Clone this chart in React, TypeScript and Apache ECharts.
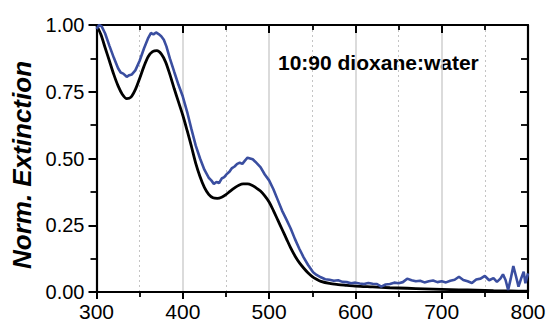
import React, { useEffect, useRef } from "react";
import * as echarts from "echarts";

const blackWl = [300,305,310,315,320,325,330,335,340,345,350,355,360,365,370,375,380,385,390,395,400,405,410,415,420,425,430,435,440,445,450,455,460,465,470,475,480,485,490,495,500,505,510,515,520,525,530,535,540,545,550,555,560,570,580,590,600,620,640,660,680,700,720,740,760,780,800];
const blackVal = [1.0,0.965,0.915,0.865,0.815,0.772,0.74,0.724,0.73,0.758,0.8,0.845,0.882,0.9,0.904,0.892,0.862,0.815,0.762,0.712,0.662,0.605,0.545,0.482,0.432,0.392,0.366,0.353,0.351,0.355,0.365,0.378,0.39,0.4,0.405,0.405,0.4,0.39,0.378,0.36,0.337,0.305,0.27,0.235,0.2,0.165,0.135,0.11,0.09,0.072,0.058,0.048,0.04,0.032,0.028,0.025,0.022,0.019,0.016,0.014,0.012,0.01,0.008,0.007,0.005,0.004,0.003];

const blueWl = [300,303,306,310,315,320,325,328,331,335,338,341,345,350,355,360,363,366,369,372,375,378,381,385,390,395,400,405,410,415,420,425,430,433,436,439,442,445,448,451,454,457,460,463,466,469,472,475,478,481,484,487,490,495,500,505,510,515,520,525,530,535,540,545,548,551,555,560,565,570,575,580,585,590,595,600,605,610,615,620,625,630,635,640,645,650,655,660,665,670,675,680,685,690,695,700,705,710,715,720,725,730,735,740,745,750,755,760,764,768,771,774,777,780,783,786,789,792,795,797,800];
const blueVal = [0.985,1.0,0.995,0.968,0.922,0.878,0.838,0.822,0.818,0.806,0.812,0.815,0.83,0.866,0.912,0.952,0.97,0.965,0.972,0.966,0.958,0.945,0.92,0.875,0.825,0.776,0.732,0.675,0.61,0.548,0.5,0.458,0.428,0.418,0.405,0.412,0.408,0.425,0.43,0.442,0.45,0.464,0.47,0.48,0.484,0.48,0.492,0.503,0.5,0.497,0.488,0.478,0.468,0.44,0.418,0.385,0.345,0.305,0.272,0.238,0.198,0.162,0.13,0.102,0.088,0.074,0.064,0.055,0.048,0.046,0.042,0.044,0.038,0.037,0.033,0.035,0.032,0.03,0.034,0.031,0.03,0.02,0.028,0.03,0.035,0.033,0.037,0.05,0.044,0.04,0.042,0.036,0.04,0.043,0.037,0.04,0.036,0.042,0.046,0.057,0.045,0.04,0.034,0.047,0.05,0.06,0.044,0.052,0.038,0.05,0.066,0.045,0.008,0.05,0.097,0.06,0.02,0.05,0.076,0.033,0.07];

const xMin = 300, xMax = 800, xStep = 100;
const yMin = 0, yMax = 1, yStep = 0.25;
const yTitle = "Norm. Extinction";
const note = "10:90 dioxane:water";

const FONT = "'Liberation Sans', Arial, sans-serif";

export default function App() {
  const ref = useRef<HTMLDivElement>(null);
  useEffect(() => {
    if (!ref.current) return;
    const chart = echarts.init(ref.current, undefined, { renderer: "svg" });
    const axisLine = { show: true, onZero: false, lineStyle: { color: "#000", width: 2.2 } };
    const baseX = {
      type: "value" as const,
      min: xMin,
      max: xMax,
      interval: xStep,
      axisLine,
    };
    const baseY = {
      type: "value" as const,
      min: yMin,
      max: yMax,
      interval: yStep,
      axisLine,
      splitLine: { show: false },
    };
    chart.setOption({
      animation: false,
      backgroundColor: "#fff",
      grid: { left: 96.5, right: 23, top: 25, bottom: 33, containLabel: false },
      xAxis: [
        {
          ...baseX,
          position: "bottom",
          axisTick: { show: true, length: 7, lineStyle: { color: "#000", width: 2 } },
          minorTick: { show: true, splitNumber: 2, length: 5, lineStyle: { color: "#000", width: 1.8 } },
          splitLine: { show: true, lineStyle: { color: "#cfcfcf", width: 1.5 } },
          minorSplitLine: { show: true, lineStyle: { color: "#c4c4c4", width: 1, type: [2, 3] } },
          axisLabel: { color: "#000", fontSize: 21, fontFamily: FONT, margin: 9 },
        },
        {
          ...baseX,
          position: "top",
          axisTick: { show: true, inside: true, length: 8, lineStyle: { color: "#000", width: 2 } },
          minorTick: { show: true, splitNumber: 2, length: 5, lineStyle: { color: "#000", width: 1.8 } },
          splitLine: { show: false },
          axisLabel: { show: false },
        },
      ],
      yAxis: [
        {
          ...baseY,
          position: "left",
          axisTick: { show: true, length: 8, lineStyle: { color: "#000", width: 2 } },
          minorTick: { show: true, splitNumber: 2, length: 6, lineStyle: { color: "#000", width: 1.8 } },
          axisLabel: {
            color: "#000",
            fontSize: 20,
            fontFamily: FONT,
            margin: 12,
            formatter: (v: number) => v.toFixed(2),
          },
        },
        {
          ...baseY,
          position: "right",
          axisTick: { show: true, inside: true, length: 8, lineStyle: { color: "#000", width: 2 } },
          minorTick: { show: true, splitNumber: 2, length: 7, lineStyle: { color: "#000", width: 1.8 } },
          axisLabel: { show: false },
        },
      ],
      graphic: [
        {
          type: "text",
          x: 22,
          y: 165,
          rotation: Math.PI / 2,
          style: {
            text: yTitle,
            fill: "#000",
            font: `italic bold 26px ${FONT}`,
            align: "center",
            verticalAlign: "middle",
          },
        },
        {
          type: "text",
          x: 278,
          y: 62,
          style: {
            text: note,
            fill: "#000",
            font: `bold 21px ${FONT}`,
            align: "left",
            verticalAlign: "middle",
          },
        },
      ],
      series: [
        {
          type: "line",
          xAxisIndex: 0,
          yAxisIndex: 0,
          data: blackWl.map((w, i) => [w, blackVal[i]]),
          showSymbol: false,
          smooth: 0.3,
          lineStyle: { color: "#000", width: 2.8 },
          z: 3,
        },
        {
          type: "line",
          xAxisIndex: 0,
          yAxisIndex: 0,
          data: blueWl.map((w, i) => [w, blueVal[i]]),
          showSymbol: false,
          smooth: false,
          lineStyle: { color: "#3a4ea0", width: 2.6 },
          z: 4,
        },
      ],
    });
    return () => chart.dispose();
  }, []);
  return (
    <div
      ref={ref}
      style={{ position: "absolute", left: 0, top: 0, width: 551, height: 325 }}
    />
  );
}
